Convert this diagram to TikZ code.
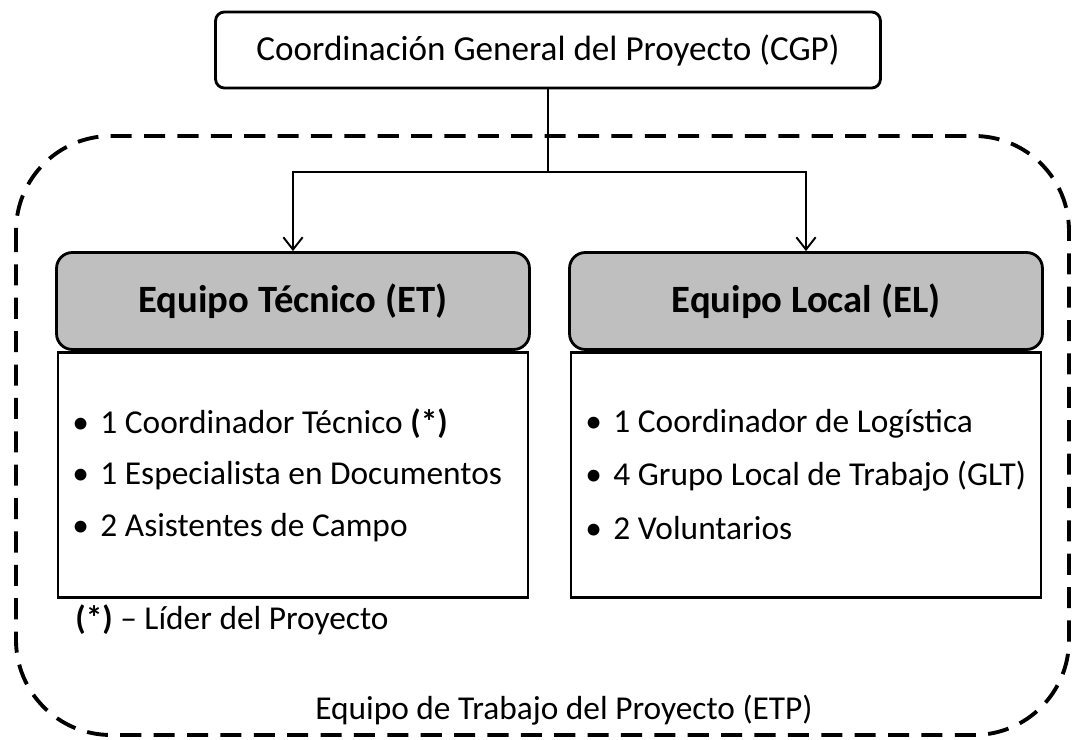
\documentclass[tikz,border=0pt]{standalone}
\usepackage{fontspec}
\setmainfont{Carlito}
\usetikzlibrary{arrows.meta}
\newcommand{\bul}{\makebox[16pt][l]{\textbullet}}
\begin{document}
\begin{tikzpicture}
    [x=0.02cm,y=-0.02cm,
     >={Straight Barb[length=7pt,width=11pt]},
     head/.style={draw,line width=1.6pt,fill=black!25,rounded corners=9pt,
        minimum width=9.46cm,minimum height=1.94cm,
        font=\fontsize{22}{26}\selectfont\bfseries},
     body/.style={draw,line width=1.6pt,minimum width=9.4cm,minimum height=4.9cm,
        anchor=north},
     item/.style={anchor=west,inner sep=0pt,font=\fontsize{19}{23}\selectfont}]
\useasboundingbox (0,0) rectangle (1073,740);
% project team frame
\draw [dash pattern=on 12pt off 7pt,line width=2.2pt,rounded corners=1.9cm]
    (16,136) rectangle (1069,735);
\node [draw,line width=1.6pt,rounded corners=5pt,minimum width=13.3cm,
    minimum height=1.52cm,font=\fontsize{20}{24}\selectfont]
    (cgp) at (548,50) {Coordinación General del Proyecto (CGP)};
\node [head] (ethead) at (293,301) {Equipo Técnico (ET)};
\node [head] (elhead) at (806,301) {Equipo Local (EL)};
\node [body] (etbody) at (ethead.south) {};
\node [body] (elbody) at (elhead.south) {};
\coordinate (fork) at (548,172);
\draw [line width=1.1pt] (cgp.south) -- (fork);
\draw [line width=1.1pt,->] (fork) -| (ethead.north);
\draw [line width=1.1pt,->] (fork) -| (elhead.north);
% members
\node [item] (et1) at (72,424) {\bul 1 Coordinador Técnico \textbf{(*)}};
\node [item] (et2) at (72,476) {\bul 1 Especialista en Documentos};
\node [item] (et3) at (72,528) {\bul 2 Asistentes de Campo};
\node [item] (el1) at (585,424) {\bul 1 Coordinador de Logística};
\node [item] (el2) at (585,476) {\bul 4 Grupo Local de Trabajo (GLT)};
\node [item] (el3) at (585,528) {\bul 2 Voluntarios};
\node [item] (note) at (75,620) {\textbf{(*)} – Líder del Proyecto};
\node [font=\fontsize{19}{23}\selectfont] (etp) at (564,710)
    {Equipo de Trabajo del Proyecto (ETP)};
\end{tikzpicture}
\end{document}
